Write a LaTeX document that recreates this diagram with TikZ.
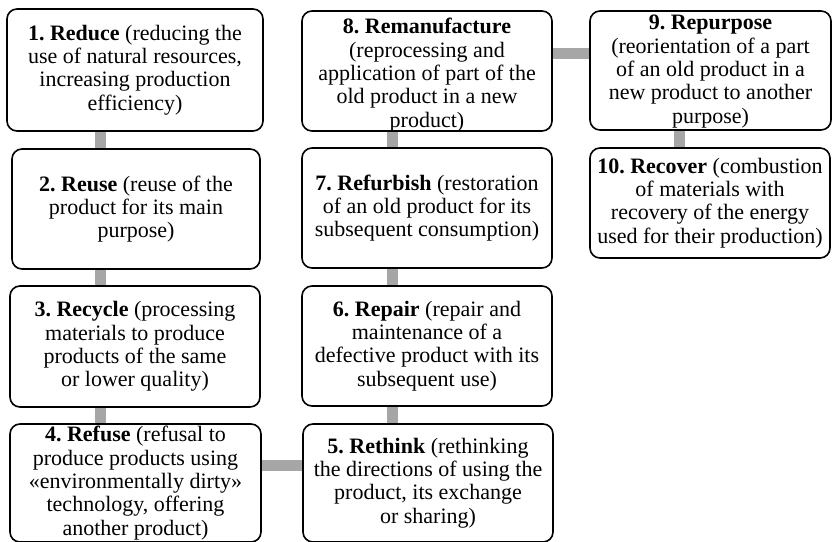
\documentclass[tikz,border=0pt]{standalone}
\usepackage{fontspec}
\setmainfont{Liberation Serif}
\frenchspacing
\begin{document}
\begin{tikzpicture}[x=1pt,y=-1pt,
  stagebox/.style={draw=black, line width=1.6pt, rounded corners=10pt, fill=white, inner sep=0pt},
  stagetext/.style={inner sep=0pt, align=center,
    font=\fontsize{22pt}{23.3pt}\selectfont\frenchspacing},
  link/.style={draw=linkgray, line width=11pt}]
\definecolor{linkgray}{HTML}{A6A6A6}
\useasboundingbox (0,0) rectangle (832,541);
\newcommand{\stage}[7][0]{%
  \node[stagebox, minimum width=#5-#3, minimum height=#6-#4] (#2) at ({(#3+#5)/2},{(#4+#6)/2}) {};
  \node[stagetext] (#2t) at ([yshift=-#1pt]#2.center) {#7};}
\stage{b1}{7}{9}{263}{131}{\textbf{1. Reduce} (reducing the\\ use of natural resources,\\ increasing production\\ efficiency)}
\stage{b2}{12}{149}{260}{269}{\textbf{2. Reuse} (reuse of the\\ product for its main\\ purpose)}
\stage{b3}{10}{286}{260}{407}{\textbf{3. Recycle} (processing\\ materials to produce\\ products of the same\\ or lower quality)}
\stage{b4}{10}{424}{261}{542}{\textbf{4. Refuse} (refusal to\\ produce products using\\ «environmentally dirty»\\ technology, offering\\ another product)}
\stage{b5}{303}{424}{553}{542}{\textbf{5. Rethink} (rethinking\\ the directions of using the\\ product, its exchange\\ or sharing)}
\stage{b6}{302}{286}{552}{406}{\textbf{6. Repair} (repair and\\ maintenance of a\\ defective product with its\\ subsequent use)}
\stage{b7}{302}{148}{552}{268}{\textbf{7. Refurbish} (restoration\\ of an old product for its\\ subsequent consumption)}
\stage[4]{b8}{302}{11}{552}{131}{\textbf{8. Remanufacture}\\ (reprocessing and\\ application of part of the\\ old product in a new\\ product)}
\stage[1]{b9}{590}{11}{831}{130}{\textbf{9. Repurpose}\\ (reorientation of a part\\ of an old product in a\\ new product to another\\ purpose)}
\stage{b10}{590}{148}{830}{258}{\textbf{10. Recover} (combustion\\ of materials with\\ recovery of the energy\\ used for their production)}
\draw[link] (b1.south -| 100,0) -- (b2.north -| 100,0);
\draw[link] (b2.south -| 100,0) -- (b3.north -| 100,0);
\draw[link] (b3.south -| 100,0) -- (b4.north -| 100,0);
\draw[link] (b4.east |- 0,465) -- (b5.west |- 0,465);
\draw[link] (b6.south -| 392,0) -- (b5.north -| 392,0);
\draw[link] (b7.south -| 392,0) -- (b6.north -| 392,0);
\draw[link] (b8.south -| 392,0) -- (b7.north -| 392,0);
\draw[link] (b8.east |- 0,53) -- (b9.west |- 0,53);
\draw[link] (b9.south -| 679,0) -- (b10.north -| 679,0);
\end{tikzpicture}
\end{document}
